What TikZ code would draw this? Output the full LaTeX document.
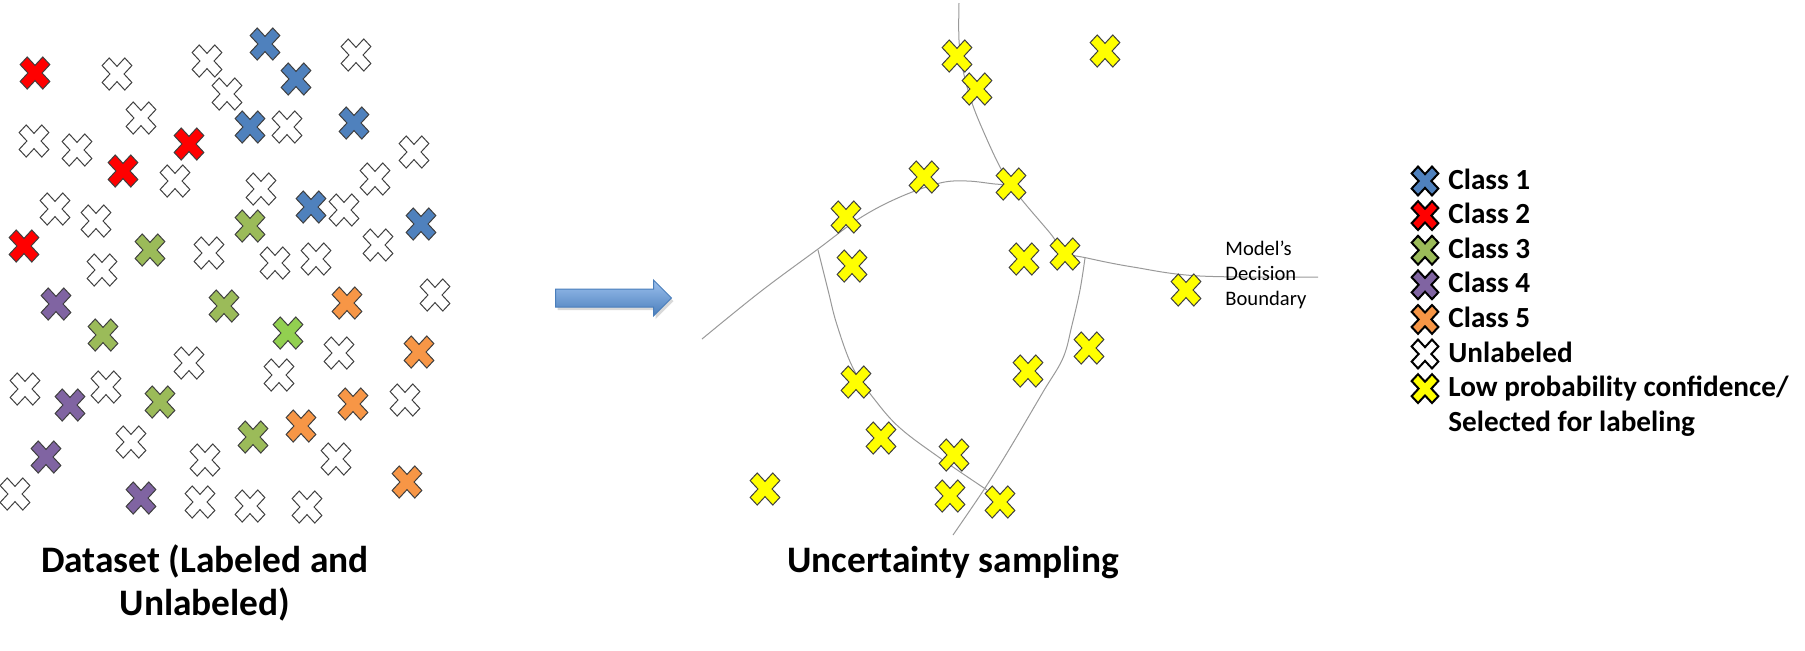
\documentclass[tikz,border=0pt]{standalone}
\usepackage{fontspec}
\setmainfont{Carlito}
\usetikzlibrary{shapes.arrows,shadows}

\definecolor{clsblue}{HTML}{4F81BD}
\definecolor{clsred}{HTML}{FF0000}
\definecolor{clsgreen}{HTML}{9BBB59}
\definecolor{clslime}{HTML}{92D050}
\definecolor{clspurple}{HTML}{8064A2}
\definecolor{clsorange}{HTML}{F79646}
\definecolor{pickyellow}{HTML}{FFFF00}
\definecolor{edgegray}{HTML}{3F3F3F}
\definecolor{arrowtop}{HTML}{9CC0EE}
\definecolor{arrowbot}{HTML}{4A7EBB}
\definecolor{linegray}{HTML}{999999}

\tikzstyle{unl} = [fill=white, draw=edgegray, line width=0.5pt]
\tikzstyle{cls1} = [fill=clsblue, draw=edgegray, line width=0.5pt]
\tikzstyle{cls2} = [fill=clsred, draw=edgegray, line width=0.5pt]
\tikzstyle{cls3} = [fill=clsgreen, draw=edgegray, line width=0.5pt]
\tikzstyle{cls3b} = [fill=clslime, draw=edgegray, line width=0.5pt]
\tikzstyle{cls4} = [fill=clspurple, draw=edgegray, line width=0.5pt]
\tikzstyle{cls5} = [fill=clsorange, draw=edgegray, line width=0.5pt]
\tikzstyle{pick} = [fill=pickyellow, draw=edgegray, line width=0.5pt]
\tikzstyle{keyicon} = [scale=0.9, draw=black, line width=1pt]
\tikzstyle{caption} = [font=\fontsize{18.7}{21.5}\selectfont\bfseries, align=center, inner sep=0pt]
\tikzstyle{keytext} = [font=\fontsize{14.6}{17}\selectfont\bfseries, anchor=base west, inner sep=0pt]
\tikzstyle{note} = [font=\fontsize{10.3}{12.5}\selectfont, align=left, inner sep=0pt]
\tikzstyle{boundary} = [draw=linegray, line width=0.5pt]
\tikzstyle{flowarrow} = [single arrow, single arrow head extend=4.5pt, single arrow head indent=0pt,
    minimum height=58pt, inner xsep=0pt, inner ysep=4.25pt, draw=arrowbot, line width=0.5pt,
    top color=arrowtop, bottom color=arrowbot,
    drop shadow={opacity=0.3, shadow xshift=1pt, shadow yshift=-1.5pt}]

\tikzset{
    pics/ecks/.style={code={
        \path[pic actions, yscale=1.08, rotate=45]
            (5,5) -- (16,5) -- (16,-5) -- (5,-5) -- (5,-16) -- (-5,-16) -- (-5,-5)
            -- (-16,-5) -- (-16,5) -- (-5,5) -- (-5,16) -- (5,16) -- cycle;
    }}
}

\begin{document}
\begin{tikzpicture}[x=0.5pt,y=-0.5pt]
\useasboundingbox (0,0) rectangle (1805,650);

% dataset, labeled and unlabeled
\foreach \p in {(117,74),(207,61),(356,55),(227,94),(141,118),(287,127),(34,141),(77,150),
    (175,181),(414,152),(375,179),(261,189),(344,210),(55,209),(96,221),(209,253),(275,263),
    (316,259),(378,245),(102,270),(435,295),(25,389),(106,387),(189,363),(339,353),(279,375),
    (405,400),(131,442),(205,460),(336,459),(15,494),(200,502),(250,506),(307,507)}
    \pic[unl] at \p {ecks};
\foreach \p in {(265,44),(296,79),(250,127),(354,123),(311,207),(421,224)}
    \pic[cls1] at \p {ecks};
\foreach \p in {(35,73),(189,144),(123,171),(24,246)}
    \pic[cls2] at \p {ecks};
\foreach \p in {(150,250),(250,226),(103,335),(224,306),(160,402),(253,437)}
    \pic[cls3] at \p {ecks};
\pic[cls3b] at (288,333) {ecks};
\foreach \p in {(56,304),(70,405),(46,457),(141,498)}
    \pic[cls4] at \p {ecks};
\foreach \p in {(347,303),(419,352),(353,404),(301,426),(407,482)}
    \pic[cls5] at \p {ecks};

\node[caption, anchor=base] (leftcap) at (205,615) {Dataset (Labeled and\\Unlabeled)};

% arrow
\node[flowarrow] (shift) at (609,298) {};

% decision boundary
\draw[boundary] plot[smooth, tension=0.6] coordinates {(702,339) (760,292) (818,249) (860,218)
    (900,197) (940,183) (967,181) (995,184) (1011,185)};
\draw[boundary] plot[smooth, tension=0.6] coordinates {(959,3) (959,40) (963,70) (972,103)
    (985,135) (1000,167) (1011,184) (1022,200) (1050,233) (1065,252) (1087,258) (1133,267)
    (1200,276) (1318,277)};
\draw[boundary] plot[smooth, tension=0.6] coordinates {(1085,258) (1080,290) (1072,325)
    (1063,358) (1043,392) (1010,448) (985,488) (953,535)};
\draw[boundary] plot[smooth, tension=0.6] coordinates {(818,250) (828,290) (837,325)
    (853,368) (875,400) (900,428) (940,458) (987,490)};

% selected samples
\foreach \p in {(846,217),(852,266),(856,382),(881,438),(765,489),(957,56),(977,89),
    (1105,51),(924,177),(1011,184),(1024,259),(1065,254),(1186,290),(1089,348),(1028,371),
    (954,455),(950,496),(1000,502)}
    \pic[pick] at \p {ecks};

\node[note, anchor=base west] (boundarynote) at (1225,305) {Model’s\\Decision\\Boundary};

\node[caption, anchor=base] (rightcap) at (953,572) {Uncertainty sampling};

% legend
\foreach \sty/\txt [count=\i from 0, evaluate=\i as \yb using 189+34.6*\i] in
    {cls1/Class 1, cls2/Class 2, cls3/Class 3, cls4/Class 4, cls5/Class 5, unl/Unlabeled}
{
    \pic[\sty, keyicon] at (1425,{\yb-8}) {ecks};
    \node[keytext] (key\i) at (1448,\yb) {\txt};
}
\pic[pick, keyicon] at (1425,388.6) {ecks};
\node[keytext] (key6) at (1448,396.6) {Low probability confidence/};
\node[keytext] (selected) at (1448,431.2) {Selected for labeling};
\end{tikzpicture}
\end{document}
